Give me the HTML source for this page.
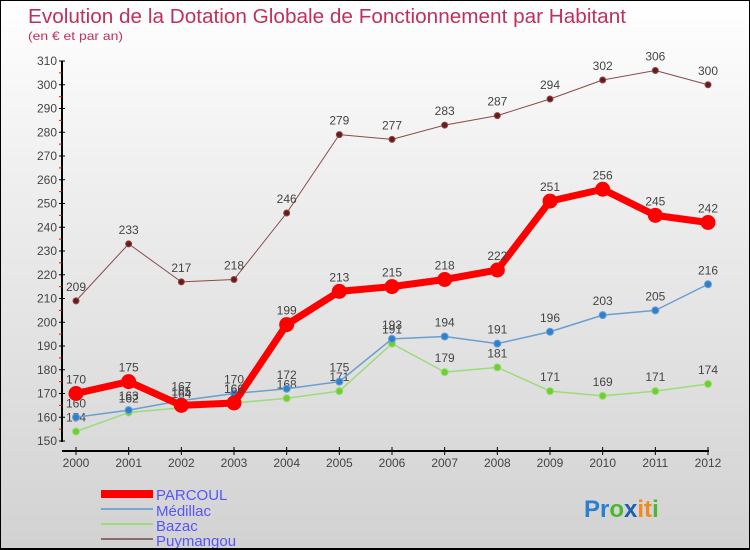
<!DOCTYPE html>
<html><head><meta charset="utf-8"><style>
body{margin:0}
#c{position:relative;width:750px;height:550px;box-sizing:border-box;border:1px solid #000;border-bottom:2px solid #000;background:linear-gradient(#fff 0%,#f0f0f0 30%,#d2d2d2 100%);font-family:"Liberation Sans",sans-serif;overflow:hidden}
</style></head><body>
<div id="c">
<svg id="s" width="750" height="550" style="position:absolute;left:0;top:0">
<text x="27" y="22" font-size="20" fill="#c0305a" textLength="598" lengthAdjust="spacingAndGlyphs">Evolution de la Dotation Globale de Fonctionnement par Habitant</text>
<text x="27" y="39" font-size="12" fill="#c0305a" textLength="95" lengthAdjust="spacingAndGlyphs">(en € et par an)</text>
<g id="ax"></g><g id="series"></g>
<g>
<rect x="100" y="489" width="52" height="8" fill="#f00"/>
<text x="155" y="499" font-size="15" fill="#5555ff">PARCOUL</text>
<rect x="100" y="507" width="52" height="2" fill="#7aa7cc"/>
<text x="155" y="515" font-size="15" fill="#5555ff">Médillac</text>
<rect x="100" y="522" width="52" height="2" fill="#9ddb7a"/>
<text x="155" y="530" font-size="15" fill="#5555ff">Bazac</text>
<rect x="100" y="537" width="52" height="2" fill="#8b6a6a"/>
<text x="155" y="545" font-size="15" fill="#5555ff">Puymangou</text>
</g>
<text x="583" y="516" font-size="24" font-weight="bold"><tspan fill="#2a7fd0">Pr</tspan><tspan fill="#4cb830">o</tspan><tspan fill="#1a5fb0">x</tspan><tspan fill="#f08a20">it</tspan><tspan fill="#4cb830">i</tspan></text>
</svg>
</div>
<script>
const years=[2000,2001,2002,2003,2004,2005,2006,2007,2008,2009,2010,2011,2012];
const yTicks=[150,160,170,180,190,200,210,220,230,240,250,260,270,280,290,300,310];
const parcoul=[170,175,165,166,199,213,215,218,222,251,256,245,242];
const medillac=[160,163,167,170,172,175,193,194,191,196,203,205,216];
const bazac=[154,162,164,166,168,171,191,179,181,171,169,171,174];
const puymangou=[209,233,217,218,246,279,277,283,287,294,302,306,300];
const NS="http://www.w3.org/2000/svg";
const X=i=>75+i*(707-75)/12;
const Y=v=>440-(v-150)*(380/160);
function mk(t,a,p){const e=document.createElementNS(NS,t);for(const k in a)e.setAttribute(k,a[k]);p.appendChild(e);return e;}
const ax=document.getElementById('ax');
let l=mk('line',{x1:61,y1:60,x2:61,y2:441,stroke:'#000','stroke-width':2},ax);


l=mk('line',{x1:61,y1:450,x2:708,y2:450,stroke:'#000','stroke-width':2},ax);


yTicks.forEach((v,i)=>{
 mk('line',{x1:58,x2:64,y1:Y(v),y2:Y(v),stroke:'#000'},ax);
 if(i<yTicks.length-1) mk('line',{x1:58,x2:61,y1:Y(v+5),y2:Y(v+5),stroke:'#f00'},ax);
 const t=mk('text',{x:56,y:Y(v)+4,'font-size':12,fill:'#444','text-anchor':'end'},ax);
 t.textContent=v;
 
 
});
years.forEach((yr,i)=>{
 mk('line',{x1:X(i),x2:X(i),y1:446,y2:454,stroke:'#000'},ax);
 const t=mk('text',{x:X(i),y:466,'font-size':12,fill:'#444','text-anchor':'middle'},ax);
 t.textContent=yr;
 
 
});
const sg=document.getElementById('series');
function draw(name,data,color,w,r,dot){
 const g=mk('g',{},sg);
 
 
 const p=mk('polyline',{points:data.map((v,i)=>X(i)+','+Y(v)).join(' '),fill:'none',stroke:color,'stroke-width':w,'stroke-linejoin':'round'},g);
 
 
 data.forEach((v,i)=>{
  const c=mk('circle',{cx:X(i),cy:Y(v),r:r,fill:dot,stroke:color,'stroke-width':1},g);
  
  
  const t=mk('text',{x:X(i),y:Y(v)-10,'font-size':12,fill:'#444','text-anchor':'middle'},g);
  t.textContent=v;
  
  
 });
}
draw('puymangou',puymangou,'#8b4a4a',1,3,'#6a1a1a');
draw('bazac',bazac,'#9ddb7a',1.5,3.5,'#6cd030');
draw('medillac',medillac,'#6a9fd0',1.5,3.5,'#2f7fd0');
draw('parcoul',parcoul,'#f00',7,7,'#f00');
</script>
</body></html>
